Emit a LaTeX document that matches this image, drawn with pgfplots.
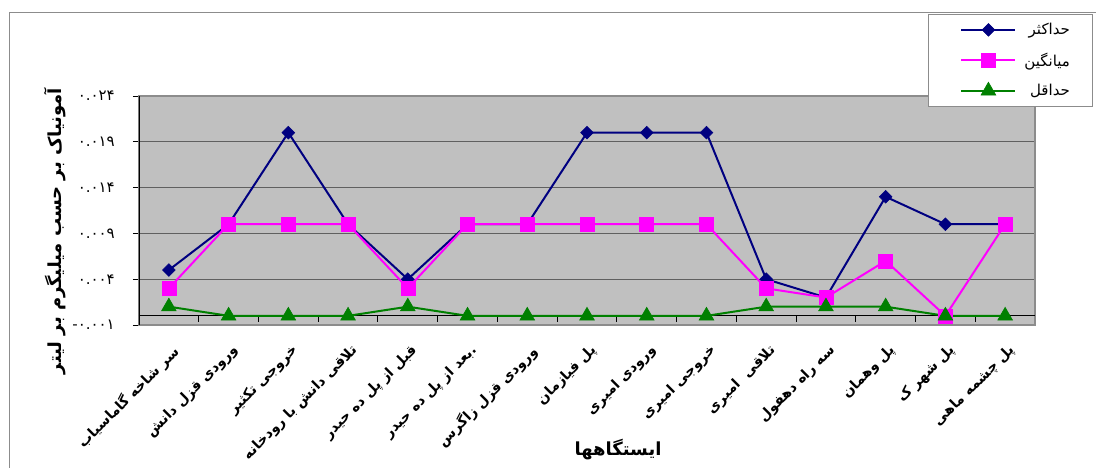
\documentclass[border=0pt]{standalone}
\usepackage{pgfplots}
\pgfplotsset{compat=1.18}
\usepackage{fontspec}
\TeXXeTstate=1
\newfontfamily\arabicfont[Script=Arabic]{DejaVu Sans}

\definecolor{plotbg}{HTML}{C0C0C0}
\definecolor{gridc}{HTML}{606060}
\definecolor{framec}{HTML}{8C8C8C}
\definecolor{maxc}{HTML}{000080}
\definecolor{meanc}{HTML}{FF00FF}
\definecolor{minc}{HTML}{008000}

% ammonia (mg/L) at each sampling station: maximum, mean, minimum
\pgfplotstableread{
x   max    mean   min
0   0.005  0.003  0.001
1   0.010  0.010  0.000
2   0.020  0.010  0.000
3   0.010  0.010  0.000
4   0.004  0.003  0.001
5   0.010  0.010  0.000
6   0.010  0.010  0.000
7   0.020  0.010  0.000
8   0.020  0.010  0.000
9   0.020  0.010  0.000
10  0.004  0.003  0.001
11  0.002  0.002  0.001
12  0.013  0.006  0.001
13  0.010  0.000  0.000
14  0.010  0.010  0.000
}\ammonia

\begin{document}
\begin{tikzpicture}
\path[use as bounding box] (0,0) rectangle (1096pt,-468pt);
% outer chart frame
\draw[framec, line width=1pt] (9pt,-470pt) -- (9pt,-13pt) -- (1098pt,-13pt);
\begin{axis}[
  at={(139pt,-325pt)}, anchor=south west,
  scale only axis, width=896pt, height=229pt,
  xmin=-0.5, xmax=14.5, ymin=-0.001, ymax=0.024,
  scaled y ticks=false,
  axis background/.style={fill=plotbg},
  axis line style={draw=framec, line width=1.5pt},
  ymajorgrids, major grid style={gridc, line width=1pt},
  tick align=outside, xtick pos=bottom, ytick pos=left,
  xtick={0,...,14},
  xtick style={draw=none},
  xticklabels={
    {\beginR سر شاخه گاماسیاب\endR},
    {\beginR ورودی قزل دانش\endR},
    {\beginR خروجی تکثیر\endR},
    {\beginR تلاقی دانش با رودخانه\endR},
    {\beginR قبل از پل ده حیدر\endR},
    {\beginR .بعد از پل ده حیدر\endR},
    {\beginR ورودی قزل زاگرس\endR},
    {\beginR پل فیازمان\endR},
    {\beginR ورودی امیری\endR},
    {\beginR خروجی امیری\endR},
    {\beginR تلاقی\ \ امیری\endR},
    {\beginR سه راه دهفول\endR},
    {\beginR پل وهمان\endR},
    {\beginR پل شهر ک\endR},
    {\beginR پل چشمه ماهی\endR}},
  xticklabel style={font=\arabicfont\bfseries\fontsize{14}{14}\selectfont,
    inner sep=0pt, xshift=2pt, yshift=-12pt, rotate=45, anchor=north east},
  ytick={-0.001,0.004,0.009,0.014,0.019,0.024},
  yticklabels={\mbox{-}\mbox{۰.۰۰۱},۰.۰۰۴,۰.۰۰۹,۰.۰۱۴,۰.۰۱۹,۰.۰۲۴},
  yticklabel style={font=\arabicfont\fontsize{15}{15}\selectfont,
    inner sep=0pt, anchor=east, xshift=-18pt},
  ytick style={black, line width=1pt},
  major tick length=6pt,
  legend style={at={(0.8806,1.358)}, anchor=north west, draw=framec,
    fill=white, line width=0.8pt,
    font=\arabicfont\fontsize{15}{15}\selectfont,
    inner xsep=20pt, inner ysep=7pt, row sep=12.5pt,
    nodes={inner sep=2pt},
    /tikz/every odd column/.append style={column sep=6pt}},
  legend cell align=right,
  legend image code/.code={\path (0pt,0pt);
    \draw[#1, mark repeat=2, mark phase=2]
    plot coordinates {(12pt,0pt) (39pt,0pt) (66pt,0pt)};},
]
% value axis and zero line with category separators
\draw[black, line width=1.2pt] (axis cs:-0.5,-0.001) -- (axis cs:-0.5,0.024);
\draw[black, line width=1pt] (axis cs:-0.5,0) -- (axis cs:14.5,0);
\pgfplotsinvokeforeach{0.5,1.5,...,13.5}{
  \draw[black, line width=1pt] (axis cs:#1,0) -- ([yshift=-6pt]axis cs:#1,0);
}
\addplot[maxc, line width=2pt, mark=square*, mark size=4.5pt,
  mark options={rotate=45, solid, line width=0.6pt}]
  table[x=x, y=max] {\ammonia};
\addlegendentry{\beginR حداکثر\endR}
\addplot[meanc, line width=2pt, mark=square*, mark size=7pt,
  mark options={solid, line width=0.6pt}]
  table[x=x, y=mean] {\ammonia};
\addlegendentry{\beginR میانگین\endR}
\addplot[minc, line width=2pt, mark=triangle*, mark size=8.5pt,
  mark options={solid, line width=0.6pt}]
  table[x=x, y=min] {\ammonia};
\addlegendentry{\beginR حداقل\endR}
\end{axis}
% axis titles
\node[font=\arabicfont\bfseries\fontsize{18}{18}\selectfont, rotate=90]
  at (55pt,-231pt) {\beginR آمونیاک بر حسب میلیگرم بر لیتر\endR};
\node[font=\arabicfont\bfseries\fontsize{18}{18}\selectfont]
  at (618pt,-450pt) {\beginR ایستگاهها\endR};
\end{tikzpicture}
\end{document}
